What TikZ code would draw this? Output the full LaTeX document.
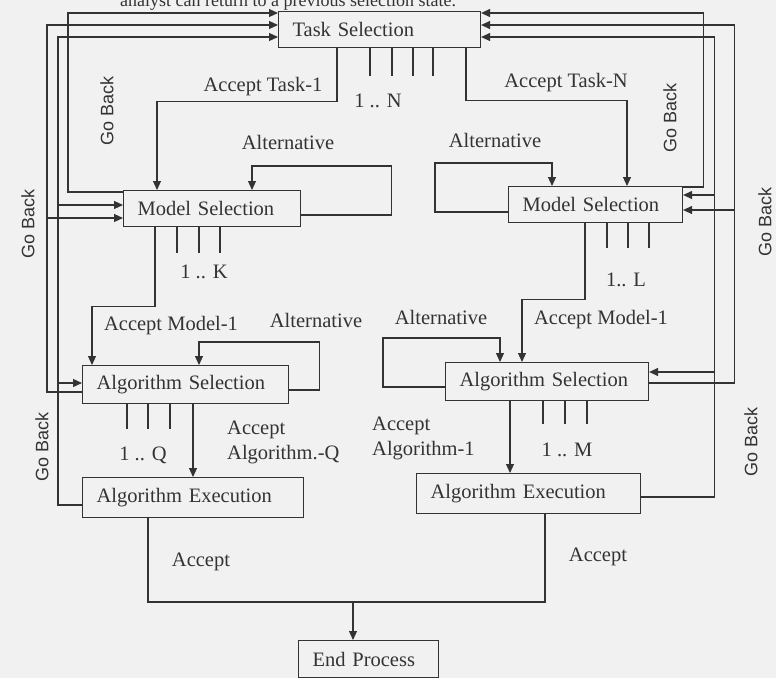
\documentclass[tikz,border=0pt]{standalone}
\usepackage{fontspec}
\setmainfont{Liberation Serif}
\newfontfamily\gbfont{Liberation Sans}
\usetikzlibrary{arrows.meta}
\definecolor{ink}{HTML}{333333}
\definecolor{bgc}{HTML}{F1F1F1}
\begin{document}
\begin{tikzpicture}[x=1pt,y=-1pt,
  every node/.style={font=\fontsize{20.5}{25}\selectfont, text=ink},
  box/.style={draw=ink, line width=1.1pt, anchor=north west, inner xsep=14pt, inner ysep=0pt, align=left},
  ln/.style={draw=ink, line width=1.1pt},
  arr/.style={ln, -{Triangle[length=9pt,width=8pt]}},
  lbl/.style={inner sep=0pt},
  goback/.style={rotate=90, font=\gbfont\fontsize{18}{20}\selectfont, inner sep=0pt}]

\fill[bgc] (0,0) rectangle (776,678);
\useasboundingbox (0,0) rectangle (776,678);

% title (cut by the top edge, as in the reference)
\node[anchor=base west, inner sep=0pt, font=\fontsize{18}{20}\selectfont] (title) at (120,6) {analyst can return to a previous selection state.};

% boxes
\node[box, text width=174pt, minimum height=36pt] (task) at (278,11) {Task Selection};
\node[box, text width=149pt, minimum height=36pt] (msL) at (123,190) {Model Selection};
\node[box, text width=146pt, minimum height=36pt] (msR) at (508,186) {Model Selection};
\node[box, text width=178pt, minimum height=38pt] (asL) at (82,365) {Algorithm Selection};
\node[box, text width=175pt, minimum height=38pt] (asR) at (445,362) {Algorithm Selection};
\node[box, text width=193pt, minimum height=40pt] (aeL) at (82,477) {Algorithm Execution};
\node[box, text width=196pt, minimum height=40pt] (aeR) at (416,473) {Algorithm Execution};
\node[box, text width=112pt, minimum height=37pt] (endp) at (298,640) {End Process};

% accept task
\draw[arr] ([xshift=59pt]task.south west) -- ++(0,53) -| ([xshift=34pt]msL.north west);
\node[lbl] (lat1) at (263,87) {Accept Task-1};
\draw[arr] ([xshift=188pt]task.south west) -- ++(0,52) -| ([xshift=119pt]msR.north west);
\node[lbl] (latn) at (566,83) {Accept Task-N};

% alternatives (model)
\draw[arr] ([yshift=-25pt]msL.north east) -- ++(90,0) -- ++(0,-49) -| ([xshift=129pt]msL.north west);
\node[lbl] (alt1) at (288,142) {Alternative};
\draw[arr] ([yshift=-26pt]msR.north west) -- ++(-73,0) -- ++(0,-49) -| ([xshift=44pt]msR.north west);
\node[lbl] (alt2) at (495,140) {Alternative};

% ticks
\foreach \dx in {92,114,135,155} \draw[ln] ([xshift=\dx pt]task.south west) -- ++(0,28);
\node[lbl] (n1) at (378,101) {1 .. N};
\foreach \dx in {54,76,97} \draw[ln] ([xshift=\dx pt]msL.south west) -- ++(0,26);
\node[lbl] (n2) at (204,272) {1 .. K};
\foreach \dx in {99,120,141} \draw[ln] ([xshift=\dx pt]msR.south west) -- ++(0,25);
\node[lbl] (n3) at (626,280) {1.. L};
\foreach \dx in {45,66,88} \draw[ln] ([xshift=\dx pt]asL.south west) -- ++(0,25);
\node[lbl] (n4) at (143,455) {1 .. Q};
\foreach \dx in {98,120,142} \draw[ln] ([xshift=\dx pt]asR.south west) -- ++(0,23);
\node[lbl] (n5) at (567,450) {1 .. M};

% accept model
\draw[arr] ([xshift=32pt]msL.south west) -- ++(0,79) -| ([xshift=10pt]asL.north west);
\node[lbl] (am1) at (171,326) {Accept Model-1};
\draw[arr] ([xshift=77pt]msR.south west) -- ++(0,76) -| ([xshift=77pt]asR.north west);
\node[lbl] (am2) at (601,320) {Accept Model-1};

% alternatives (algorithm)
\draw[arr] ([yshift=-25pt]asL.north east) -- ++(30,0) -- ++(0,-48) -| ([xshift=117pt]asL.north west);
\node[lbl] (alt3) at (316,320) {Alternative};
\draw[arr] ([yshift=-25pt]asR.north west) -- ++(-62,0) -- ++(0,-49) -| ([xshift=55pt]asR.north west);
\node[lbl] (alt4) at (441,317) {Alternative};

% accept algorithm
\draw[arr] ([xshift=111pt]asL.south west) -- ([xshift=111pt]aeL.north west);
\node[lbl, anchor=west, align=left] (aaq) at (227,442) {Accept\\Algorithm.-Q};
\draw[arr] ([xshift=65pt]asR.south west) -- ([xshift=94pt]aeR.north west);
\node[lbl, anchor=west, align=left] (aa1) at (372,438) {Accept\\Algorithm-1};

% accept -> end
\coordinate (mrg) at (353,602);
\draw[ln] ([xshift=66pt]aeL.south west) |- (mrg) -| ([xshift=129pt]aeR.south west);
\draw[arr] (mrg) -- ([xshift=55pt]endp.north west);
\node[lbl] (acc1) at (201,562) {Accept};
\node[lbl] (acc2) at (598,557) {Accept};

% go back, left
\coordinate (tA) at ([yshift=-2pt]task.north west);
\coordinate (tB) at ([yshift=-14pt]task.north west);
\coordinate (tC) at ([yshift=-26pt]task.north west);
\draw[arr] ([yshift=-2pt]msL.north west) -- ++(-55,0) |- (tA);
\draw[arr] ([yshift=-27pt]asL.north west) -- ++(-35,0) coordinate (bL) |- (tB);
\coordinate (mB) at ([yshift=-28pt]msL.north west);
\draw[arr] (bL |- mB) -- (mB);
\draw[arr] ([yshift=-28pt]aeL.north west) -- ++(-24,0) coordinate (cL) |- (tC);
\coordinate (mC) at ([yshift=-15pt]msL.north west);
\coordinate (aC) at ([yshift=-18pt]asL.north west);
\draw[arr] (cL |- mC) -- (mC);
\draw[arr] (cL |- aC) -- (aC);

% go back, right
\coordinate (tRA) at ([yshift=-2pt]task.north east);
\coordinate (tRB) at ([yshift=-14pt]task.north east);
\coordinate (tRC) at ([yshift=-26pt]task.north east);
\draw[arr] ([yshift=-1pt]msR.north east) -- ++(20,0) |- (tRA);
\draw[arr] ([yshift=-21pt]asR.north east) -- ++(85,0) coordinate (bR) |- (tRB);
\coordinate (mRB) at ([yshift=-24pt]msR.north east);
\draw[arr] (bR |- mRB) -- (mRB);
\draw[arr] ([yshift=-24pt]aeR.north east) -- ++(73,0) coordinate (cR) |- (tRC);
\coordinate (mRC) at ([yshift=-9pt]msR.north east);
\coordinate (aRC) at ([yshift=-10pt]asR.north east);
\draw[arr] (cR |- mRC) -- (mRC);
\draw[arr] (cR |- aRC) -- (aRC);

% go back labels
\node[goback] (g1) at (107,111) {Go Back};
\node[goback] (g2) at (28,224) {Go Back};
\node[goback] (g3) at (42,447) {Go Back};
\node[goback] (g4) at (670,118) {Go Back};
\node[goback] (g5) at (765,222) {Go Back};
\node[goback] (g6) at (751,442) {Go Back};
\end{tikzpicture}
\end{document}
